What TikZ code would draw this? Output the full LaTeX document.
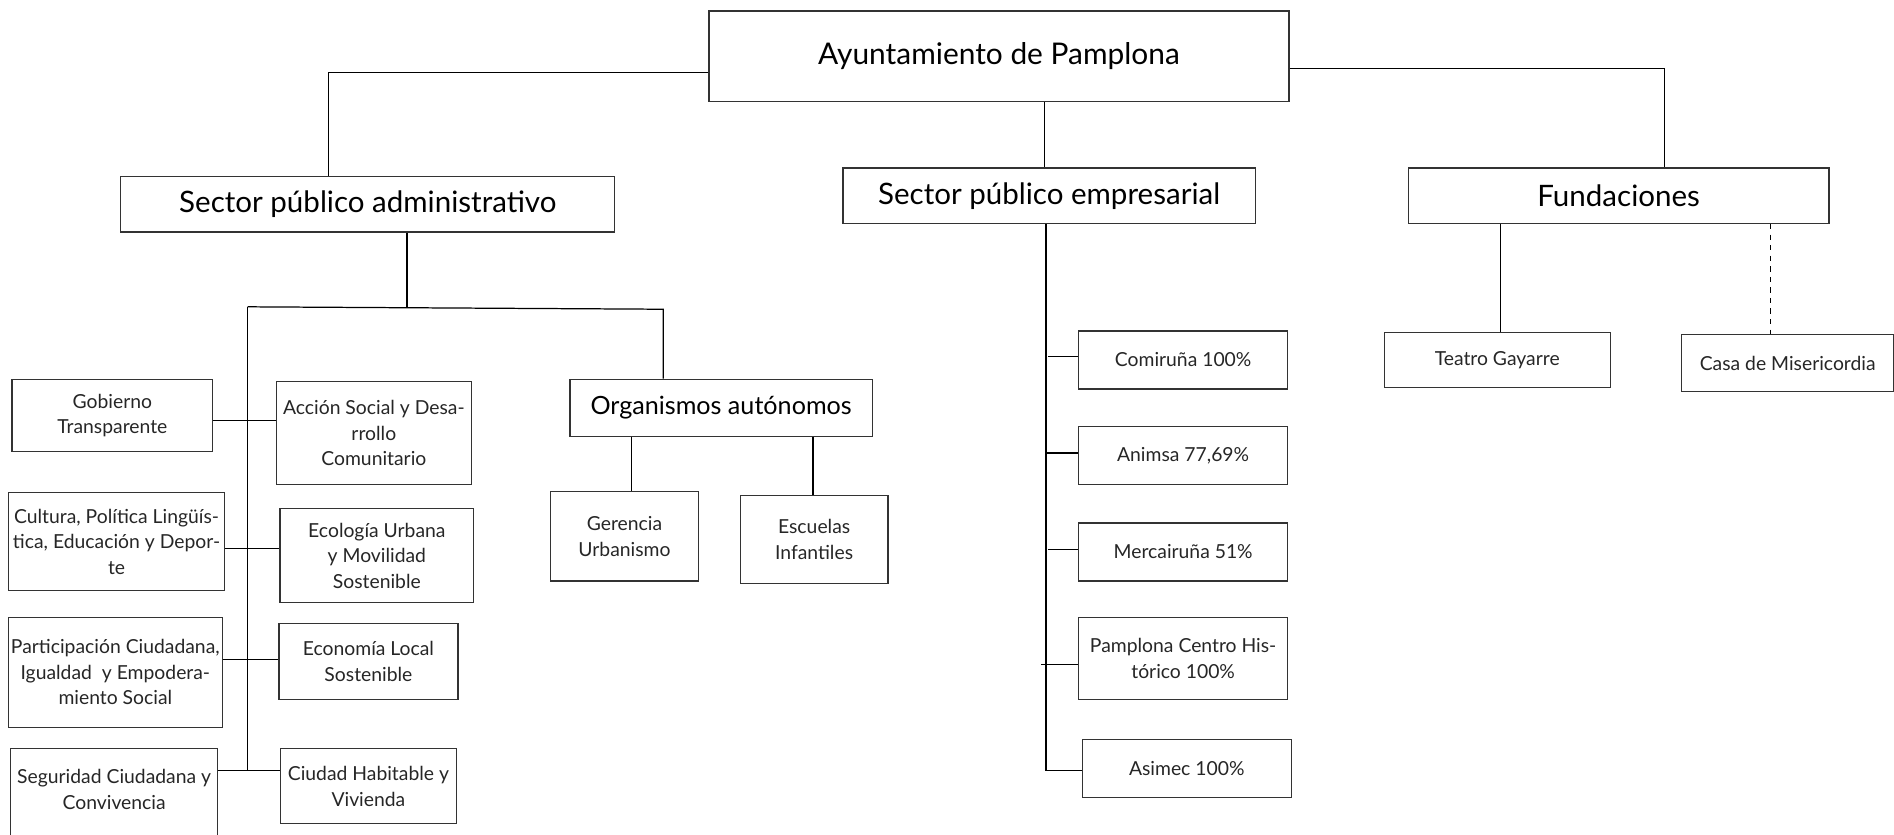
\documentclass[tikz,border=0pt]{standalone}
\usepackage{fontspec}
\setmainfont{Lato}

\begin{document}
\begin{tikzpicture}[x=0.02416cm, y=-0.02416cm, line width=0.7pt,
    headbox/.style={draw=black!80, rectangle, inner sep=0pt, font=\fontsize{17}{20}\selectfont},
    sectbox/.style={draw=black!80, rectangle, inner sep=0pt, font=\fontsize{16.8}{20}\selectfont},
    unitbox/.style={draw=black!80, rectangle, inner sep=0pt, align=center, text=black!85, font=\fontsize{11}{14.5}\selectfont}]

    \useasboundingbox (0,0) rectangle (1568,691);

    % Top node
    \node[headbox, minimum width=11.60cm, minimum height=1.81cm] (ayto) at (827,46.5) {Ayuntamiento de Pamplona};

    % Sector nodes
    \node[sectbox, minimum width=9.88cm, minimum height=1.11cm] (admin) at (304.5,169) {Sector público administrativo};
    \node[sectbox, minimum width=8.24cm, minimum height=1.11cm] (empr) at (868.5,162) {Sector público empresarial};
    \node[sectbox, minimum width=8.41cm, minimum height=1.11cm] (fund) at (1340,162) {Fundaciones};

    % Organismos autonomos
    \node[sectbox, font=\fontsize{14.3}{17}\selectfont, minimum width=6.04cm, minimum height=1.14cm] (orga) at (597,337.5) {Organismos autónomos};
    \node[unitbox, minimum width=2.95cm, minimum height=1.79cm] (geren) at (517,444) {Gerencia\\Urbanismo};
    \node[unitbox, minimum width=2.95cm, minimum height=1.76cm] (escu) at (674,446.5) {Escuelas\\Infantiles};

    % Areas, left column
    \node[unitbox, minimum width=4.01cm, minimum height=1.45cm] (gob) at (93,344) {Gobierno\\Transparente};
    \node[unitbox, minimum width=4.32cm, minimum height=1.96cm] (cult) at (96.5,448.5) {Cultura, Política Lingüís-\\tica, Educación y Depor-\\te};
    \node[unitbox, minimum width=4.28cm, minimum height=2.20cm] (part) at (95.5,556.5) {Participación Ciudadana,\\Igualdad\ \ y Empodera-\\miento Social};
    \node[unitbox, minimum width=4.13cm, minimum height=2.13cm] (segu) at (94.5,664) {Seguridad Ciudadana y\\Convivencia\\\mbox{}};

    % Areas, right column
    \node[unitbox, minimum width=3.89cm, minimum height=2.05cm] (accion) at (309.5,358.5) {Acción Social y Desa-\\rrollo\\Comunitario};
    \node[unitbox, minimum width=3.87cm, minimum height=1.88cm] (ecol) at (312,460) {Ecología Urbana\\y Movilidad\\Sostenible};
    \node[unitbox, minimum width=3.58cm, minimum height=1.52cm] (econ) at (305,547.5) {Economía Local\\Sostenible};
    \node[unitbox, minimum width=3.53cm, minimum height=1.50cm] (ciud) at (305,651) {Ciudad Habitable y\\Vivienda};

    % Empresas
    \node[unitbox, minimum width=4.18cm, minimum height=1.16cm] (comi) at (979.5,298) {Comiruña 100\%};
    \node[unitbox, minimum width=4.18cm, minimum height=1.16cm] (anim) at (979.5,377) {Animsa 77,69\%};
    \node[unitbox, minimum width=4.18cm, minimum height=1.16cm] (merc) at (979.5,457) {Mercairuña 51\%};
    \node[unitbox, minimum width=4.18cm, minimum height=1.64cm] (pamp) at (979.5,545) {Pamplona Centro His-\\tórico 100\%};
    \node[unitbox, minimum width=4.18cm, minimum height=1.16cm] (asim) at (982.5,636) {Asimec 100\%};

    % Fundaciones
    \node[unitbox, minimum width=4.52cm, minimum height=1.11cm] (teat) at (1239.5,298) {Teatro Gayarre};
    \node[unitbox, minimum width=4.25cm, minimum height=1.14cm] (casa) at (1480,300.5) {Casa de Misericordia};

    % Connect top node to sectors
    \draw (ayto.west |- 0,60) -| (admin.north -| 272,0);
    \draw (ayto.east |- 0,57) -| (fund.north -| 1378,0);
    \draw (ayto.south -| 865,0) -- (empr.north -| 865,0);

    % Administrative branch
    \coordinate (barL) at (205,254);
    \coordinate (barM) at (337,254.5);
    \coordinate (barR) at (549,256);
    \coordinate (trunkEnd) at (205,638);
    \draw (admin.south -| barM) -- (barM);
    \draw (barL) -- (barR) -- (orga.north -| barR);
    \draw (barL) -- (trunkEnd);
    \draw (gob.east |- 0,348) -- (accion.west |- 0,348);
    \draw (cult.east |- 0,454) -- (ecol.west |- 0,454);
    \draw (part.east |- 0,546) -- (econ.west |- 0,546);
    \draw (segu.east |- 0,638) -- (ciud.west |- 0,638);

    % Organismos to children
    \draw (orga.south -| 523,0) -- (geren.north -| 523,0);
    \draw (orga.south -| 673,0) -- (escu.north -| 673,0);

    % Business branch
    \coordinate (emprEnd) at (866,638);
    \draw (empr.south -| emprEnd) -- (emprEnd);
    \draw (868,295) -- (comi.west |- 0,295);
    \draw (866,375) -- (anim.west |- 0,375);
    \draw (868,455) -- (merc.west |- 0,455);
    \draw (862,550) -- (pamp.west |- 0,550);
    \draw (emprEnd) -- (asim.west |- emprEnd);

    % Foundations
    \draw (fund.south -| 1242,0) -- (teat.north -| 1242,0);
    \draw[dashed] (fund.south -| 1466,0) -- (casa.north -| 1466,0);

\end{tikzpicture}
\end{document}
